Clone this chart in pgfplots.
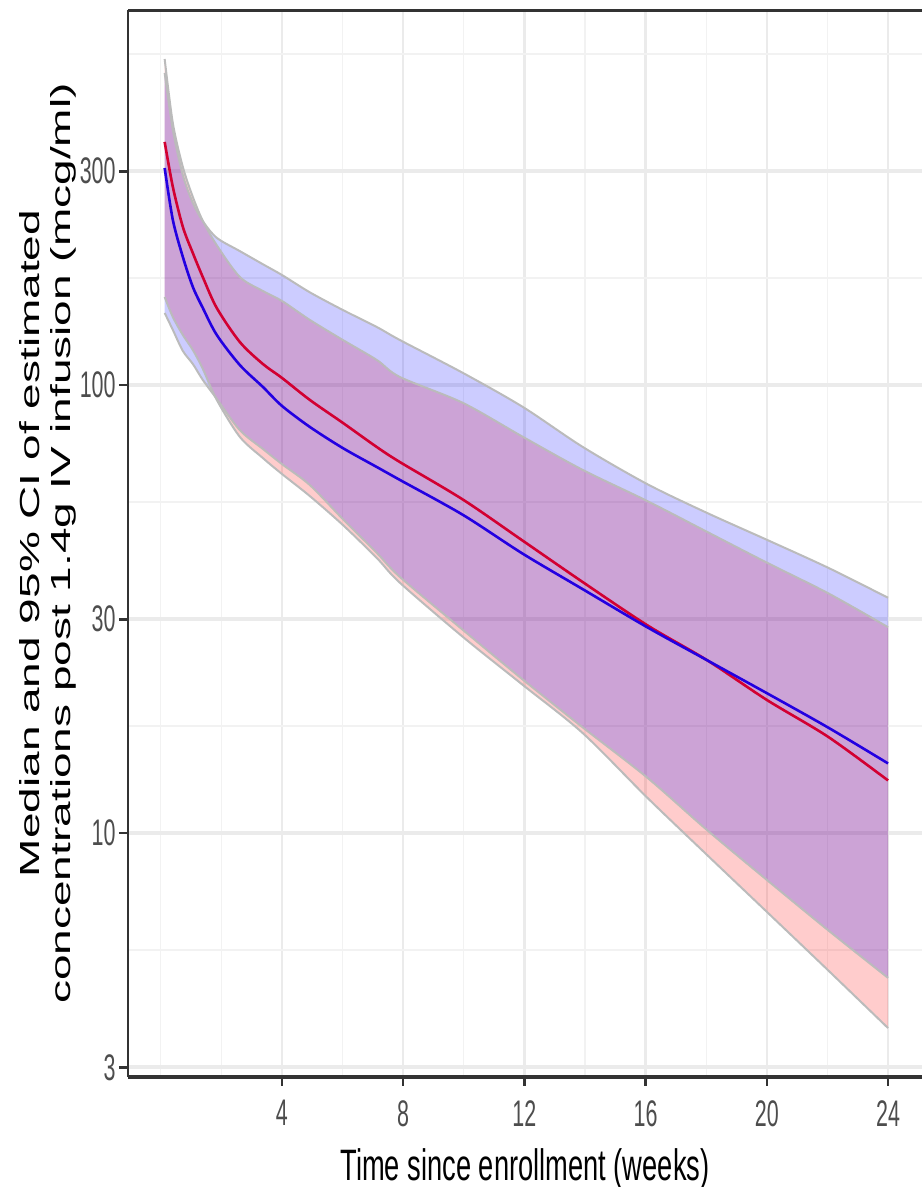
\documentclass[border=0pt]{standalone}
\usepackage{fontspec}
\setmainfont{Liberation Sans}
\newfontfamily\tickfont[FakeStretch=0.58]{Liberation Sans}
\newfontfamily\xlabfont[FakeStretch=0.62]{Liberation Sans}
\newfontfamily\ylabfont[FakeStretch=1.667]{Liberation Sans}
\usepackage{pgfplots}
\pgfplotsset{compat=1.18}
\usepackage{pgfplotstable}
\usepgfplotslibrary{fillbetween}
\usetikzlibrary{calc}

\definecolor{axcol}{HTML}{333333}
\definecolor{tickgray}{HTML}{4D4D4D}
\definecolor{gridmaj}{HTML}{EBEBEB}
\definecolor{gridmin}{HTML}{F2F2F2}
\definecolor{ribedge}{HTML}{BBBBBB}
\definecolor{redline}{RGB}{210,0,50}
\definecolor{blueline}{RGB}{35,0,225}

\pgfplotstableread{
t lo med hi
0.13 157.2 348.7 534
0.40 141.8 276.7 384
0.73 129.3 225.3 306.6
1.06 119.7 197 262.8
1.39 108.6 174 232.3
1.85 92.6 148.5 205
2.61 76.6 124.7 174.2
3.37 68.7 111.4 162.1
4.00 63.3 103.7 154
4.92 56.5 92.6 139.7
6.01 48.7 82.3 126
7.13 41.1 72.7 113.7
7.89 36.2 67.3 104.2
9.97 27.4 55.5 91.2
11.95 21.4 44.9 76.6
13.93 16.7 36.3 64.6
16.05 12.0 29.1 55.1
18.03 8.93 24.3 47.0
20.01 6.66 19.8 40.1
22.02 4.94 16.4 34.3
24.00 3.67 13.1 28.8
}\redtab

\pgfplotstableread{
t lo med hi
0.13 144.8 305 497
0.40 132.7 233.5 371
0.73 119.1 193.1 294
1.06 111.4 165.5 254.8
1.39 102.6 148.5 232
1.85 93.1 129.3 213
2.61 79.3 110.8 199
3.37 72.0 99 186
4.00 66.6 89.8 176
4.92 59.8 80.6 161
6.01 50.2 72.3 147
7.13 42.2 65.6 134.7
7.89 37.3 61.4 126
9.97 28.4 51.3 106.4
11.95 22.0 42.0 89.3
13.93 17.2 35.0 72.7
16.05 13.3 28.8 60.1
18.03 10.15 24.3 51.8
20.01 7.85 20.5 45.1
22.02 6.07 17.2 39.1
24.00 4.75 14.3 33.5
}\bluetab

\begin{document}
\begin{tikzpicture}
\begin{axis}[
  scale only axis, width=397pt, height=533.5pt,
  xmin=-1.08, xmax=25.12,
  ymode=log, ymin=2.854, ymax=687,
  axis x line*=bottom, axis y line*=left,
  x axis line style={-, draw=axcol, line width=1.6pt},
  y axis line style={-, draw=axcol, line width=1.1pt},
  xtick={4,8,12,16,20,24}, xticklabels={4,8,12,16,20,24},
  ytick={3,10,30,100,300}, yticklabels={3,10,30,100,300},
  minor xtick={0,2,6,10,14,18,22},
  minor ytick={5.477,17.32,54.77,173.2,547.7},
  tick align=outside, major tick length=4.5pt, minor tick length=0pt,
  major tick style={draw=axcol, line width=1.3pt},
  xmajorgrids, ymajorgrids, xminorgrids, yminorgrids,
  major x grid style={draw=gridmaj, line width=1.15pt},
  major y grid style={draw=gridmaj, line width=2pt},
  minor x grid style={draw=gridmin, line width=0.65pt},
  minor y grid style={draw=gridmin, line width=1pt},
  ticklabel style={font=\tickfont\fontsize{18.5}{20}\selectfont, text=tickgray},
  xticklabel style={anchor=north, inner sep=0pt, yshift=-7pt},
  yticklabel style={anchor=east, inner sep=0pt, xshift=-1.5pt},
  xlabel={Time since enrollment (weeks)},
  every axis x label/.style={at={(rel axis cs:0.5,0)}, anchor=base, yshift=-51.5pt,
     font=\xlabfont\fontsize{22}{24}\selectfont},
  ylabel={Median and 95\% CI of estimated\\concentrations post 1.4g IV infusion (mcg/ml)},
  every axis y label/.style={at={(rel axis cs:-0.1015,0.5)}, rotate=90, anchor=center,
     align=center, font=\ylabfont\fontsize{13.8}{15.5}\selectfont},
]
% red ribbon
\addplot[name path=rhi, draw=none, smooth] table[x=t,y=hi]{\redtab};
\addplot[name path=rlo, draw=none, smooth] table[x=t,y=lo]{\redtab};
\addplot[fill=red, fill opacity=0.2, draw=none] fill between[of=rhi and rlo];
\addplot[ribedge, line width=1pt, smooth] table[x=t,y=hi]{\redtab};
\addplot[ribedge, line width=1pt, smooth] table[x=t,y=lo]{\redtab};
% blue ribbon
\addplot[name path=bhi, draw=none, smooth] table[x=t,y=hi]{\bluetab};
\addplot[name path=blo, draw=none, smooth] table[x=t,y=lo]{\bluetab};
\addplot[fill=blue, fill opacity=0.2, draw=none] fill between[of=bhi and blo];
\addplot[ribedge, line width=1pt, smooth] table[x=t,y=hi]{\bluetab};
\addplot[ribedge, line width=1pt, smooth] table[x=t,y=lo]{\bluetab};
% medians
\addplot[redline, line width=1.3pt, smooth] table[x=t,y=med]{\redtab};
\addplot[blueline, line width=1.3pt, smooth] table[x=t,y=med]{\bluetab};
\draw[axcol, line width=1.6pt] (rel axis cs:0,1) -- (rel axis cs:1,1);
\coordinate (sw) at (rel axis cs:0,0);
\coordinate (ne) at (rel axis cs:1,1);
\end{axis}
\pgfresetboundingbox
\path ($(sw)+(-64pt,-55pt)$) rectangle ($(ne)+(0pt,5pt)$);
\end{tikzpicture}
\end{document}
